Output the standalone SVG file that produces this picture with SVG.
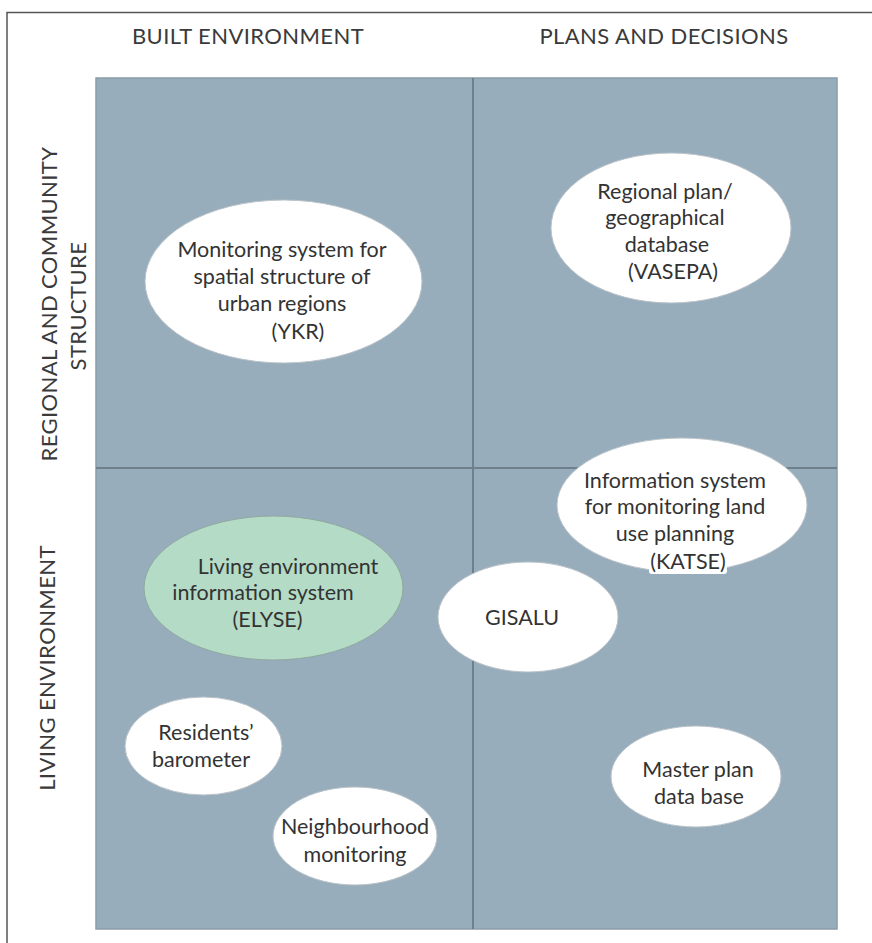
<svg xmlns="http://www.w3.org/2000/svg" width="872" height="943" viewBox="0 0 872 943">
  <style>
    .frame { fill: none; stroke: #555; stroke-width: 1.5; }
    .panel { fill: #97adbb; stroke: #8a9ca8; stroke-width: 1.5; }
    .divider { stroke: #6d808c; stroke-width: 2; }
    .axis { font-family: Lato, "Open Sans", sans-serif; font-size: 22px; letter-spacing: 0.4px; fill: #3a3a3a; text-anchor: middle; }
    .node { fill: #ffffff; stroke: #b9c2c8; stroke-width: 1; }
    .node-green { fill: #b3dbc6; stroke: #8fa9a0; stroke-width: 1; }
    .label { font-family: Lato, "Open Sans", sans-serif; font-size: 21.5px; fill: #333; text-anchor: middle; }
  </style>

  <rect width="872" height="943" fill="#ffffff"/>

  <!-- outer frame: top and left rules -->
  <path class="frame" d="M7 943 V12.5 H872"/>

  <!-- column headings -->
  <text class="axis" x="248" y="44">BUILT ENVIRONMENT</text>
  <text class="axis" x="664" y="44">PLANS AND DECISIONS</text>

  <!-- row headings (vertical) -->
  <text class="axis" transform="translate(57 304) rotate(-90)">REGIONAL AND COMMUNITY</text>
  <text class="axis" transform="translate(86 306) rotate(-90)">STRUCTURE</text>
  <text class="axis" transform="translate(55 668) rotate(-90)">LIVING ENVIRONMENT</text>

  <!-- quadrant field -->
  <rect class="panel" x="96" y="78" width="741" height="851"/>

  <!-- quadrant dividers -->
  <g id="connectors">
    <line class="divider" x1="473" y1="78" x2="473" y2="929"/>
    <line class="divider" x1="96" y1="468" x2="837" y2="468"/>
  </g>

  <g id="ykr">
    <ellipse class="node" cx="283.5" cy="281.5" rx="138.5" ry="81.5"/>
    <text class="label" x="282" y="257">Monitoring system for</text>
    <text class="label" x="282" y="284">spatial structure of</text>
    <text class="label" x="282" y="311">urban regions</text>
    <text class="label" x="298" y="339">(YKR)</text>
  </g>

  <g id="vasepa">
    <ellipse class="node" cx="671" cy="228" rx="120" ry="75"/>
    <text class="label" x="665" y="199">Regional plan/</text>
    <text class="label" x="665" y="225">geographical</text>
    <text class="label" x="667" y="252">database</text>
    <text class="label" x="673" y="279">(VASEPA)</text>
  </g>

  <g id="katse">
    <ellipse class="node" cx="682" cy="505" rx="125" ry="67"/>
    <rect x="649" y="552" width="78" height="22" rx="3" fill="#ffffff"/>
    <text class="label" x="675" y="488">Information system</text>
    <text class="label" x="675" y="514">for monitoring land</text>
    <text class="label" x="675" y="541">use planning</text>
    <text class="label" x="688" y="569">(KATSE)</text>
  </g>

  <g id="gisalu">
    <ellipse class="node" cx="528" cy="617" rx="90" ry="55"/>
    <text class="label" x="522" y="625">GISALU</text>
  </g>

  <g id="elyse">
    <ellipse class="node-green" cx="273.5" cy="588" rx="129.5" ry="72"/>
    <text class="label" x="288" y="574">Living environment</text>
    <text class="label" x="263" y="600">information system</text>
    <text class="label" x="267.5" y="627">(ELYSE)</text>
  </g>

  <g id="residents-barometer">
    <ellipse class="node" cx="203.5" cy="746" rx="78.5" ry="49"/>
    <text class="label" x="206" y="740">Residents’</text>
    <text class="label" x="201" y="767">barometer</text>
  </g>

  <g id="neighbourhood-monitoring">
    <ellipse class="node" cx="355" cy="836" rx="82" ry="49"/>
    <text class="label" x="355" y="834">Neighbourhood</text>
    <text class="label" x="355" y="862">monitoring</text>
  </g>

  <g id="master-plan">
    <ellipse class="node" cx="696" cy="776.5" rx="85" ry="50.5"/>
    <text class="label" x="698" y="777">Master plan</text>
    <text class="label" x="699" y="804">data base</text>
  </g>
</svg>
